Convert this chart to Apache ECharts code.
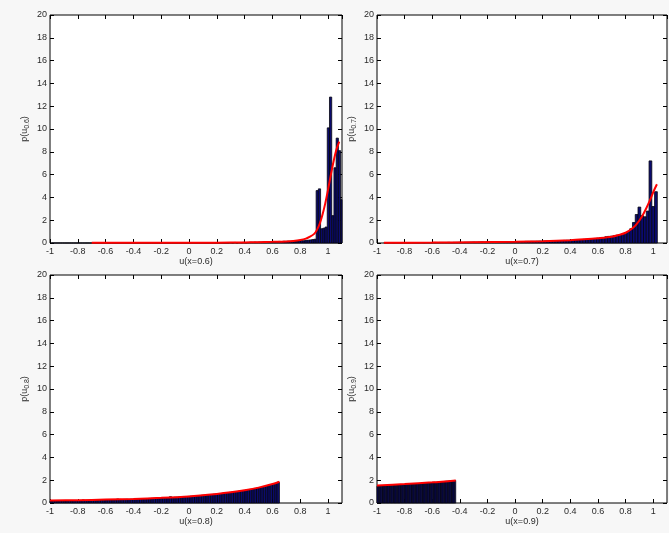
<!DOCTYPE html>
<html>
<head>
<meta charset="utf-8">
<script src="https://cdn.jsdelivr.net/npm/echarts@6/dist/echarts.min.js"></script>
<style>
  html, body { margin: 0; padding: 0; background: #f7f7f7; }
  #chart { width: 669px; height: 533px; }
</style>
</head>
<body>
<div id="chart"></div>
<script>
// Histograms of u at four x positions, each with a fitted density curve.

// x = 0.6 : bins start at -0.99, width 0.016
const binStart06 = -0.99, binWidth06 = 0.016;
const hist06 = [
  0,0,0,0,0,0,0,0,0,0, 0,0,0,0,0,0,0,0,0,0,
  0,0,0,0,0,0,0,0,0,0, 0,0,0,0,0,0,0,0,0,0,
  0,0,0,0,0,0,0,0,0,0, 0,0,0,0,0,0,0,0,0,0,
  0,0,0,0,0,0,0,0,0,0, 0,0,0,0,0,0,0,0,0,0,
  0.03,0,0.05,0,0.04,0.03,0.06,0.02,0.05,0.07,
  0.06,0.08,0.07,0.09,0.08,0.1,0.1,0.12,0.11,0.12,
  0.13,0.12,0.14,0.13,0.15,0.14,0.16,0.15,0.17,0.18,
  0.18,0.2,0.22,0.2,0.24,0.25,0.27,0.3,0.33,4.6,
  4.75,1.25,1.3,1.4,10.1,12.8,2.4,6.6,9.2,8.1,
  3.8
];
const fitX06 = [-0.7,-0.4,-0.1,0.2,0.4,0.5,0.6,0.7,0.75,0.8,0.84,0.87,0.9,0.92,0.94,0.96,0.98,1.0,1.02,1.04,1.06,1.08];
const fitY06 = [0.02,0.02,0.02,0.03,0.05,0.07,0.1,0.14,0.18,0.26,0.38,0.55,0.8,1.15,1.7,2.5,3.5,4.7,6.0,7.2,8.2,8.9];

// x = 0.7 : bins start at -0.95, width 0.02
const binStart07 = -0.95, binWidth07 = 0.02;
const hist07 = [
  0.01,0.01,0.02,0.01,0.02,0.02,0.02,0.03,0.02,0.03,
  0.03,0.03,0.03,0.04,0.03,0.04,0.04,0.04,0.05,0.04,
  0.05,0.05,0.05,0.06,0.05,0.06,0.06,0.07,0.06,0.07,
  0.07,0.08,0.09,0.08,0.09,0.1,0.09,0.1,0.1,0.11,
  0.11,0.1,0.11,0.12,0.11,0.12,0.12,0.13,0.12,0.13,
  0.13,0.14,0.14,0.15,0.15,0.16,0.17,0.16,0.18,0.18,
  0.19,0.2,0.2,0.21,0.22,0.23,0.24,0.25,0.26,0.27,
  0.29,0.3,0.32,0.34,0.35,0.38,0.4,0.42,0.45,0.48,
  0.55,0.58,0.6,0.64,0.68,0.72,0.78,0.85,1.0,1.25,
  1.8,2.5,3.15,2.4,2.3,2.8,7.2,3.2,4.5
];
const fitX07 = [-0.95,-0.6,-0.3,0,0.2,0.4,0.5,0.6,0.7,0.75,0.8,0.85,0.88,0.92,0.95,0.98,1.0,1.027];
const fitY07 = [0.02,0.04,0.07,0.1,0.15,0.24,0.32,0.42,0.55,0.7,0.9,1.3,1.65,2.35,3.05,3.85,4.45,5.15];

// x = 0.8 : bins start at -1, width 0.0165
const binStart08 = -1, binWidth08 = 0.0165;
const hist08 = [
  0.18,0.17,0.19,0.18,0.2,0.19,0.18,0.2,0.21,0.19,
  0.21,0.2,0.22,0.21,0.27,0.22,0.22,0.24,0.23,0.24,
  0.25,0.24,0.26,0.25,0.27,0.28,0.27,0.29,0.28,0.35,
  0.31,0.3,0.32,0.33,0.32,0.34,0.35,0.34,0.36,0.37,
  0.37,0.39,0.38,0.4,0.41,0.42,0.43,0.45,0.44,0.46,
  0.47,0.48,0.55,0.49,0.51,0.52,0.54,0.53,0.55,0.57,
  0.58,0.6,0.61,0.63,0.64,0.66,0.68,0.69,0.71,0.73,
  0.75,0.77,0.79,0.81,0.83,0.86,0.88,0.9,0.93,0.96,
  0.98,1.01,1.04,1.07,1.1,1.13,1.17,1.2,1.24,1.28,
  1.32,1.36,1.4,1.45,1.5,1.55,1.6,1.66,1.72,1.83
];
const fitX08 = [-1,-0.8,-0.6,-0.4,-0.2,0,0.2,0.3,0.4,0.5,0.6,0.65];
const fitY08 = [0.21,0.25,0.3,0.36,0.45,0.58,0.8,0.94,1.12,1.35,1.66,1.86];

// x = 0.9 : bins start at -1, width 0.01
const binStart09 = -1, binWidth09 = 0.01;
const hist09 = [
  1.48,1.5,1.47,1.51,1.5,1.52,1.53,1.51,1.54,1.55,
  1.54,1.56,1.57,1.55,1.58,1.6,1.59,1.61,1.62,1.6,
  1.63,1.64,1.62,1.65,1.66,1.67,1.65,1.68,1.69,1.7,
  1.71,1.7,1.73,1.74,1.72,1.75,1.77,1.76,1.78,1.79,
  1.8,1.82,1.81,1.83,1.85,1.84,1.86,1.88,1.87,1.9,
  1.91,1.92,1.94,1.93,1.95,1.97,1.98
];
const fitX09 = [-1,-0.8,-0.6,-0.43];
const fitY09 = [1.53,1.66,1.81,1.98];

// Axis ticks and labels
const xMin = -1, xMax = 1.1, xStep = 0.2;
const yMin = 0, yMax = 20, yStep = 2;
const panelIds = ['0.6', '0.7', '0.8', '0.9'];

const panels = [
  { id: panelIds[0], start: binStart06, width: binWidth06, hist: hist06, fx: fitX06, fy: fitY06 },
  { id: panelIds[1], start: binStart07, width: binWidth07, hist: hist07, fx: fitX07, fy: fitY07 },
  { id: panelIds[2], start: binStart08, width: binWidth08, hist: hist08, fx: fitX08, fy: fitY08 },
  { id: panelIds[3], start: binStart09, width: binWidth09, hist: hist09, fx: fitX09, fy: fitY09 }
];

const gridBoxes = [
  { left: 50, top: 15, width: 292, height: 228 },
  { left: 377, top: 15, width: 290, height: 228 },
  { left: 50, top: 275, width: 292, height: 228 },
  { left: 377, top: 275, width: 290, height: 228 }
];

const FONT = 'Liberation Sans, Arial, Helvetica, sans-serif';
const labelColor = '#2a2a2a';

function renderBin(params, api) {
  const cs = params.coordSys;
  const a = api.coord([api.value(0), api.value(2)]);
  const b = api.coord([api.value(1), 0]);
  const x0 = Math.max(a[0], cs.x);
  const x1 = Math.min(b[0], cs.x + cs.width);
  if (x1 <= x0) return null;
  return {
    type: 'rect',
    shape: { x: x0, y: a[1], width: x1 - x0, height: b[1] - a[1] },
    style: { fill: '#0b0b6e', stroke: '#050510', lineWidth: 0.8 }
  };
}

const grid = [], xAxis = [], yAxis = [], series = [];

panels.forEach((p, k) => {
  grid.push(Object.assign({
    show: true, backgroundColor: '#fff', borderColor: '#000', borderWidth: 1
  }, gridBoxes[k]));

  const tick = { show: true, inside: true, length: 4, lineStyle: { color: '#000', width: 1 } };
  const noLine = { show: false, onZero: false };

  xAxis.push({
    type: 'value', gridIndex: k, min: xMin, max: xMax, interval: xStep, position: 'bottom',
    splitLine: { show: false }, axisLine: noLine, axisTick: tick,
    axisLabel: { fontSize: 9, color: labelColor, fontFamily: FONT, margin: 4, showMaxLabel: false },
    name: 'u(x=' + p.id + ')', nameLocation: 'middle', nameGap: 14,
    nameTextStyle: { fontSize: 9, color: labelColor, fontFamily: FONT }
  });
  xAxis.push({
    type: 'value', gridIndex: k, min: xMin, max: xMax, interval: xStep, position: 'top',
    splitLine: { show: false }, axisLine: noLine, axisTick: tick,
    axisLabel: { show: false }
  });

  yAxis.push({
    type: 'value', gridIndex: k, min: yMin, max: yMax, interval: yStep, position: 'left',
    splitLine: { show: false }, axisLine: noLine, axisTick: tick,
    axisLabel: { fontSize: 9, color: labelColor, fontFamily: FONT, margin: 3 },
    name: '{a|p(u}{s|' + p.id + '}{a|)}', nameLocation: 'middle', nameGap: 19, nameRotate: 90,
    nameTextStyle: {
      color: labelColor, fontFamily: FONT,
      rich: {
        a: { fontSize: 9, color: labelColor, fontFamily: FONT },
        s: { fontSize: 7, color: labelColor, fontFamily: FONT, padding: [5, 0, 0, 0] }
      }
    }
  });
  yAxis.push({
    type: 'value', gridIndex: k, min: yMin, max: yMax, interval: yStep, position: 'right',
    splitLine: { show: false }, axisLine: noLine, axisTick: tick,
    axisLabel: { show: false }
  });

  series.push({
    type: 'custom', xAxisIndex: 2 * k, yAxisIndex: 2 * k,
    renderItem: renderBin,
    encode: { x: [0, 1], y: 2 },
    data: p.hist.map((h, i) => [p.start + i * p.width, p.start + (i + 1) * p.width, h]),
    z: 2, silent: true
  });
  series.push({
    type: 'line', xAxisIndex: 2 * k, yAxisIndex: 2 * k,
    data: p.fx.map((x, i) => [x, p.fy[i]]),
    showSymbol: false, smooth: 0.3,
    lineStyle: { color: '#ff0000', width: 2 },
    z: 3, silent: true
  });
});

const chart = echarts.init(document.getElementById('chart'), null, { renderer: 'canvas' });
chart.setOption({
  backgroundColor: '#f7f7f7',
  animation: false,
  grid, xAxis, yAxis, series
});
</script>
</body>
</html>
